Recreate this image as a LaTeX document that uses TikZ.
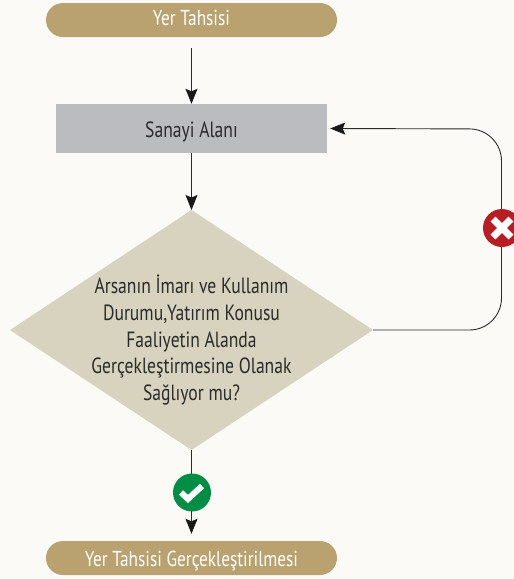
\documentclass[tikz,border=0pt]{standalone}
\usepackage{fontspec}
\setmainfont[FakeStretch=0.8]{PT Sans}
\usetikzlibrary{arrows.meta,shapes.geometric}
\definecolor{bgc}{HTML}{FBFAF6}
\definecolor{tan}{HTML}{B9A170}
\definecolor{greyb}{HTML}{BBBCC0}
\definecolor{sand}{HTML}{D8D3BE}
\definecolor{ink}{HTML}{2B2A2C}
\definecolor{redc}{HTML}{BA1C24}
\definecolor{greenc}{HTML}{008D44}
\newcommand{\lowered}[2]{\raisebox{-#1pt}[0pt][0pt]{#2}}
\tikzset{
  x=1pt,y=-1pt,
  pill/.style={fill=tan,rounded corners=17pt,minimum width=291pt,minimum height=34pt,inner sep=0pt,text=white,font=\fontsize{21.6}{24}\selectfont},
  rectbox/.style={fill=greyb,minimum width=271pt,minimum height=49pt,inner sep=0pt,text=ink,font=\fontsize{22}{24}\selectfont},
  conn/.style={draw=ink,line width=0.9pt,-{Stealth[length=15pt,width=12pt,inset=2.5pt,color=black!90]}},
  badge/.style={circle,minimum size=38pt,inner sep=0pt},
  mark line/.style={draw=white,line width=5.5pt}
}
\begin{document}
\begin{tikzpicture}
\useasboundingbox (0,0) rectangle (514,579);
\clip (0,0) rectangle (514,579);
\fill[bgc] (0,0) rectangle (514,579);
\node[pill] (start) at (191.5,20) {\lowered{5}{Yer Tahsisi}};
\node[rectbox] (area) at (191.5,128.5) {\lowered{8.5}{Sanayi Alanı}};
\path[fill=sand] (191.5,210) -- (373,330) -- (191.5,450) -- (10,330) -- cycle;
\coordinate (dtop) at (191.5,210);
\coordinate (dright) at (373,330);
\coordinate (dbot) at (191.5,450);
\node[align=center,text=ink,font=\fontsize{22}{26.7}\selectfont,inner sep=0pt] (question) at (191.5,340) {Arsanın İmarı ve Kullanım\\Durumu,Yatırım Konusu\\Faaliyetin Alanda\\Gerçekleştirmesine Olanak\\Sağlıyor mu?};
\node[pill] (end) at (191.5,558) {\lowered{8.5}{Yer Tahsisi Gerçekleştirilmesi}};
\coordinate (corner) at (501.5,129);
\coordinate (corner2) at (501.5,330);
\draw[conn,shorten <=11pt] (start) -- (area);
\draw[conn] (area) -- (dtop);
\draw[conn,shorten <=0pt,shorten >=7pt] (dbot) -- (end);
\draw[conn,shorten >=3pt,rounded corners=32pt] (dright) -- (corner2) -- (corner) -- (area.east);
\node[badge,fill=redc] (no) at (502,228) {};
\draw[mark line,line width=7pt] (no.center) ++(-9,-9) -- ++(18,18);
\draw[mark line,line width=7pt] (no.center) ++(9,-9) -- ++(-18,18);
\node[badge,fill=greenc] (yes) at (192,492.5) {};
\draw[mark line,line width=6pt,line join=miter] (yes.center) ++(-11,0) -- ++(7,6.5) -- ++(14,-13);
\end{tikzpicture}
\end{document}
